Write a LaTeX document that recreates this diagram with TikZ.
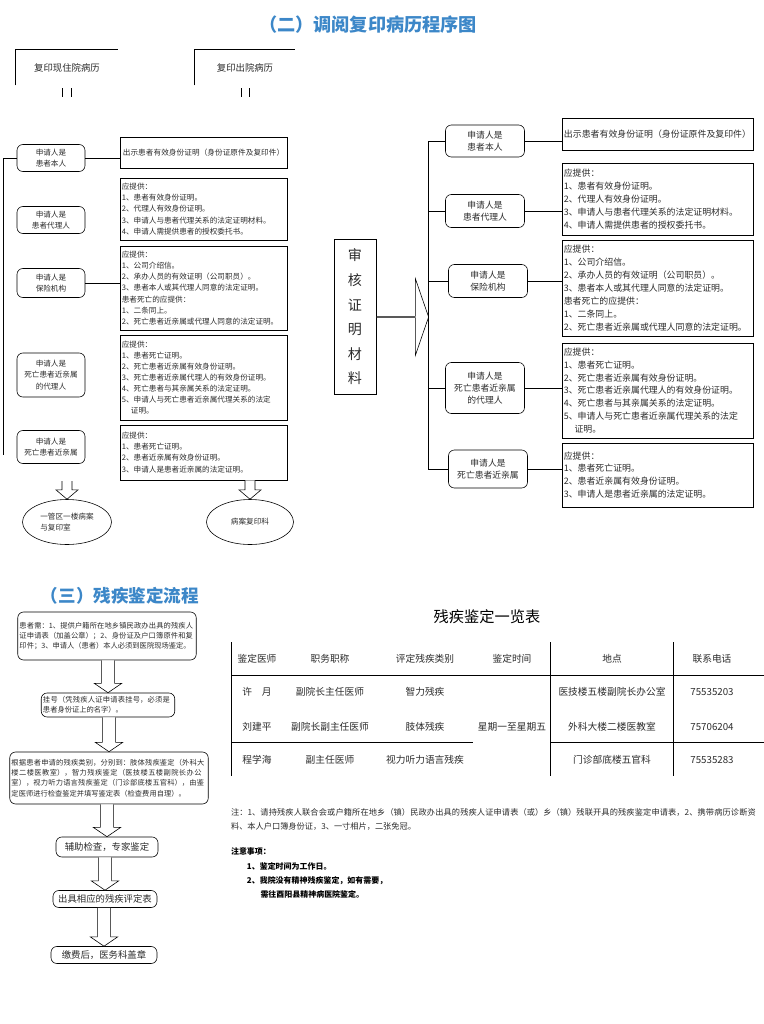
\documentclass[tikz,border=0pt]{standalone}
\usepackage{fontspec}
\setmainfont{Noto Sans CJK SC}
\XeTeXlinebreaklocale "zh"
\XeTeXlinebreakskip = 0pt plus 1pt
\usepackage{tikz}
\usetikzlibrary{arrows.meta, positioning, shapes.geometric, shapes.arrows, calc}
\definecolor{titleblue}{HTML}{3C87C8}
\definecolor{inkgray}{HTML}{2B2B2B}
\newcommand\hollowdown[4]{%
  \draw[hollow] let \p1=(#1), \p2=(#2) in
    (\x2-#3,\y1) -- (\x2-#3,\y2+0.28cm) -- (\x2-#4,\y2+0.28cm) -- (\x2,\y2)
    -- (\x2+#4,\y2+0.28cm) -- (\x2+#3,\y2+0.28cm) -- (\x2+#3,\y1);}

\begin{document}
\begin{tikzpicture}[
    x=0.03cm, y=-0.03cm,
    line width=0.5pt,
    every node/.style={font=\fontsize{6.5}{9.5}\selectfont, inner sep=1.5pt, text=inkgray},
    heading/.style={font=\bfseries\fontsize{15.5}{18}\selectfont, text=titleblue},
    kind/.style={
        rectangle,
        rounded corners=5pt,
        draw,
        align=center,
        minimum width=2.04cm
    },
    proof/.style={
        rectangle,
        draw,
        align=left,
        text width=4.9cm,
        minimum height=#1
    },
    bigkind/.style={kind, minimum width=2.37cm, font=\fontsize{7.5}{10.5}\selectfont},
    bigproof/.style={proof=#1, text width=5.62cm, inner sep=1.5pt, font=\fontsize{7.6}{11}\selectfont},
    flow/.style={
        rectangle,
        rounded corners=5pt,
        draw,
        align=left,
        font=\fontsize{6.2}{8.8}\selectfont
    },
    hollow/.style={draw, fill=white, line width=0.5pt},
    cell/.style={font=\fontsize{8.3}{10}\selectfont, text=inkgray}
]
\useasboundingbox (0,0) rectangle (764,1024);

% (二)
\node[heading] (title2) at (368,25) {（二）调阅复印病历程序图};

\node[minimum width=3.06cm, minimum height=1.05cm, font=\fontsize{8}{10}\selectfont] (tp1) at (67,67.5) {复印现住院病历};
\node[minimum width=3cm, minimum height=1.05cm, font=\fontsize{8}{10}\selectfont] (tp2) at (245,67.5) {复印出院病历};
\draw (tp1.south west) |- (tp1.north east);
\draw (tp2.south west) |- (tp2.north east);
\draw ($(tp1.south)+(-4.5,3)$) -- ++(0,9) ($(tp1.south)+(4.5,3)$) -- ++(0,9);
\draw ($(tp2.south)+(-3.5,3)$) -- ++(0,9) ($(tp2.south)+(4.5,3)$) -- ++(0,9);

\node[kind, minimum height=0.81cm] (lk1) at (51,158) {申请人是\\患者本人};
\node[kind, minimum height=0.81cm] (lk2) at (51,220) {申请人是\\患者代理人};
\node[kind, minimum height=0.87cm] (lk3) at (51,283) {申请人是\\保险机构};
\node[kind, minimum height=1.32cm] (lk4) at (51,375) {申请人是\\死亡患者近亲属\\的代理人};
\node[kind, minimum height=0.99cm] (lk5) at (51,447) {申请人是\\死亡患者近亲属};

\node[proof=0.93cm, align=center] (ld1) at (203.5,152.5) {出示患者有效身份证明（身份证原件及复印件）};
\node[proof=1.86cm] (ld2) at (203.5,209) {应提供：\\1、患者有效身份证明。\\2、代理人有效身份证明。\\3、申请人与患者代理关系的法定证明材料。\\4、申请人需提供患者的授权委托书。};
\node[proof=2.52cm] (ld3) at (203.5,288) {应提供：\\1、公司介绍信。\\2、承办人员的有效证明（公司职员）。\\3、患者本人或其代理人同意的法定证明。\\患者死亡的应提供：\\1、二条同上。\\2、死亡患者近亲属或代理人同意的法定证明。};
\node[proof=2.55cm] (ld4) at (203.5,377.5) {应提供：\\1、患者死亡证明。\\2、死亡患者近亲属有效身份证明。\\3、死亡患者近亲属代理人的有效身份证明。\\4、死亡患者与其亲属关系的法定证明。\\5、申请人与死亡患者近亲属代理关系的法定\\\hspace*{1.2em}证明。};
\node[proof=1.65cm] (ld5) at (203.5,452.5) {应提供：\\1、患者死亡证明。\\2、患者近亲属有效身份证明。\\3、申请人是患者近亲属的法定证明。};

\coordinate (lend) at (3,455);
\draw (lk1.west) -| (lend);
\draw (lk1.east) -- (lk1.east -| ld1.west);
\draw (lk3.east) -- (lk3.east -| ld3.west);

\node[ellipse, draw, minimum width=2.67cm, minimum height=1.35cm, align=left] (ell1) at (67,522) {一管区一楼病案\\与复印室};
\node[ellipse, draw, minimum width=2.61cm, minimum height=1.35cm] (ell2) at (250,522) {病案复印科};
\coordinate (lh1) at (67,481);
\hollowdown{lh1}{ell1.north}{0.15cm}{0.33cm}
\hollowdown{ld5.south}{ell2.north}{0.15cm}{0.33cm}

\node[draw, align=center, minimum width=1.26cm, minimum height=4.65cm, font=\fontsize{12}{21}\selectfont] (aud) at (355,317) {审\\核\\证\\明\\材\\料};
\node[single arrow, draw, fill=white, minimum height=1.56cm, minimum width=2.31cm, single arrow head extend=0.6cm, single arrow tip angle=142, inner sep=0pt, anchor=tail] (bigarr) at (aud.east) {};

\node[bigkind, minimum height=0.96cm] (rk1) at (485,141) {申请人是\\患者本人};
\node[bigkind, minimum height=0.99cm] (rk2) at (485,211) {申请人是\\患者代理人};
\node[bigkind, minimum height=0.99cm] (rk3) at (488,281) {申请人是\\保险机构};
\node[bigkind, minimum height=1.53cm] (rk4) at (485,388) {申请人是\\死亡患者近亲属\\的代理人};
\node[bigkind, minimum height=1.14cm] (rk5) at (488,469) {申请人是\\死亡患者近亲属};

\node[bigproof=0.96cm, align=center] (rd1) at (657.5,134) {出示患者有效身份证明（身份证原件及复印件）};
\node[bigproof=2.16cm] (rd2) at (657.5,199) {应提供：\\1、患者有效身份证明。\\2、代理人有效身份证明。\\3、申请人与患者代理关系的法定证明材料。\\4、申请人需提供患者的授权委托书。};
\node[bigproof=2.88cm] (rd3) at (657.5,288) {应提供：\\1、公司介绍信。\\2、承办人员的有效证明（公司职员）。\\3、患者本人或其代理人同意的法定证明。\\患者死亡的应提供：\\1、二条同上。\\2、死亡患者近亲属或代理人同意的法定证明。};
\node[bigproof=2.85cm] (rd4) at (657.5,390.5) {应提供：\\1、患者死亡证明。\\2、死亡患者近亲属有效身份证明。\\3、死亡患者近亲属代理人的有效身份证明。\\4、死亡患者与其亲属关系的法定证明。\\5、申请人与死亡患者近亲属代理关系的法定\\\hspace*{1.2em}证明。};
\node[bigproof=1.92cm] (rd5) at (657.5,475) {应提供：\\1、患者死亡证明。\\2、患者近亲属有效身份证明。\\3、申请人是患者近亲属的法定证明。};

\coordinate (rtrunk) at (428,0);
\draw (rk1.west) -- (rk1.west -| rtrunk) -- (rk5.west -| rtrunk) -- (rk5.west);
\foreach \k in {2,3,4}
    \draw (rk\k.west) -- (rk\k.west -| rtrunk);
\foreach \k in {1,...,5}
    \draw (rk\k.east) -- (rk\k.east -| rd\k.west);

% (三)
\node[heading, font=\bfseries\fontsize{15}{18}\selectfont] (title3) at (120,596) {（三）残疾鉴定流程};

\node[flow, text width=5.25cm, minimum height=1.44cm] (fl1) at (107,636) {患者需：1、提供户籍所在地乡镇民政办出具的残疾人证申请表（加盖公章）；2、身份证及户口簿原件和复印件；3、申请人（患者）本人必须到医院现场鉴定。};
\node[flow, text width=3.9cm, minimum height=0.72cm] (fl2) at (108,705) {挂号（凭残疾人证申请表挂号，必须是患者身份证上的名字）。};
\node[flow, text width=5.85cm, minimum height=1.56cm] (fl3) at (109,778) {根据患者申请的残疾类别，分别到：肢体残疾鉴定（外科大楼二楼医教室），智力残疾鉴定（医技楼五楼副院长办公室），视力听力语言残疾鉴定（门诊部底楼五官科），由鉴定医师进行检查鉴定并填写鉴定表（检查费用自理）。};
\node[flow, align=center, minimum width=3.06cm, minimum height=0.6cm, font=\fontsize{8}{10}\selectfont] (fl4) at (107,847) {辅助检查，专家鉴定};
\node[flow, align=center, minimum width=3.12cm, minimum height=0.51cm, font=\fontsize{8}{10}\selectfont] (fl5) at (105,899) {出具相应的残疾评定表};
\node[flow, align=center, minimum width=3.18cm, minimum height=0.51cm, font=\fontsize{8}{10}\selectfont] (fl6) at (104,955) {缴费后，医务科盖章};

\hollowdown{fl1.south}{fl2.north}{0.2cm}{0.41cm}
\hollowdown{fl2.south}{fl3.north}{0.2cm}{0.41cm}
\hollowdown{fl3.south}{fl4.north}{0.2cm}{0.41cm}
\hollowdown{fl4.south}{fl5.north}{0.2cm}{0.41cm}
\hollowdown{fl5.south}{fl6.north}{0.2cm}{0.41cm}

\node[font=\fontsize{13}{15}\selectfont, text=black] (tbltitle) at (487,617) {残疾鉴定一览表};
\draw (231,642) -- (231,776) (550,642) -- (550,776) (673,642) -- (673,776);
\draw (231,675) -- (764,675) (231,742) -- (473,742) (550,742) -- (764,742);
\foreach \x/\t [count=\i] in {257/鉴定医师, 330/职务职称, 425/评定残疾类别, 512/鉴定时间, 612/地点, 712/联系电话}
    \node[cell] (hd\i) at (\x,659) {\t};
\foreach \x/\t [count=\i] in {257/许　月, 330/副院长主任医师, 425/智力残疾, 612/医技楼五楼副院长办公室, 712/75535203}
    \node[cell] (ra\i) at (\x,692) {\t};
\foreach \x/\t [count=\i] in {257/刘建平, 330/副院长副主任医师, 425/肢体残疾, 612/外科大楼二楼医教室, 712/75706204}
    \node[cell] (rb\i) at (\x,727) {\t};
\foreach \x/\t [count=\i] in {257/程学海, 330/副主任医师, 425/视力听力语言残疾, 612/门诊部底楼五官科, 712/75535283}
    \node[cell] (rc\i) at (\x,760) {\t};
\node[cell] (days) at (512,727) {星期一至星期五};

\node[anchor=west, align=left, text width=15.8cm, font=\fontsize{7}{12}\selectfont] (note) at (229,819) {注：1、请持残疾人联合会或户籍所在地乡（镇）民政办出具的残疾人证申请表（或）乡（镇）残联开具的残疾鉴定申请表，2、携带病历诊断资料、本人户口簿身份证，3、一寸相片，二张免冠。};

\node[anchor=north west, align=left, font=\bfseries\fontsize{6.8}{12}\selectfont, text=black] (tips) at (229,846) {注意事项：\\\hspace*{2em}1、鉴定时间为工作日。\\\hspace*{2em}2、我院没有精神残疾鉴定，如有需要，\\\hspace*{3.7em}需往酉阳县精神病医院鉴定。};

\end{tikzpicture}
\end{document}
